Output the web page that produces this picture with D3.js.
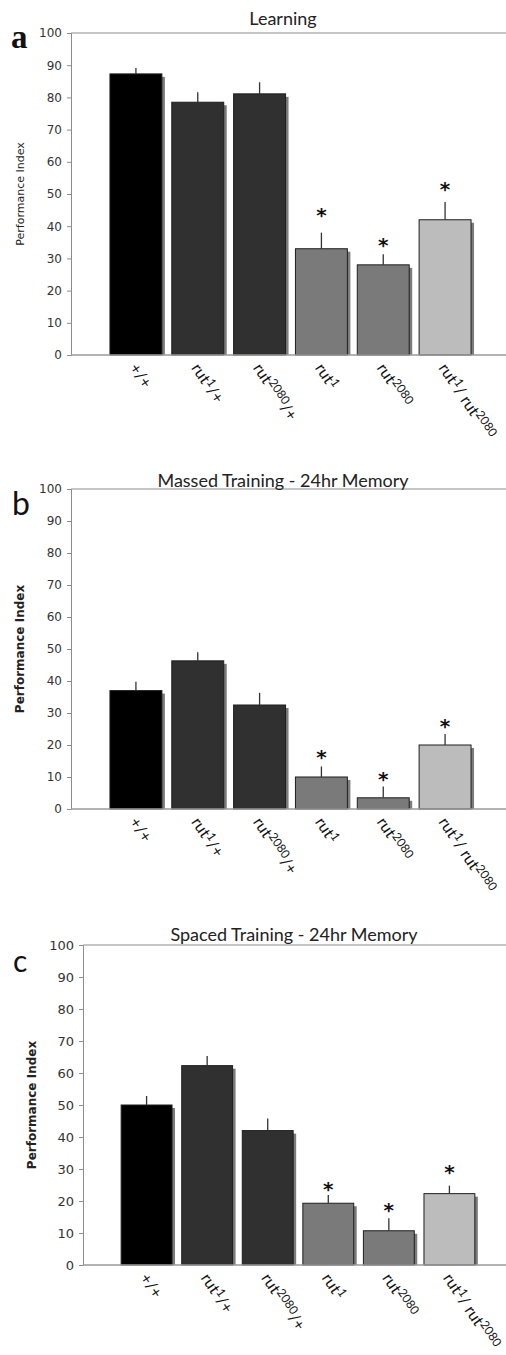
<!DOCTYPE html>
<html>
<head>
<meta charset="utf-8">
<script src="https://cdn.jsdelivr.net/npm/d3@7"></script>
<style>
  body { margin: 0; background: #fff; }
  svg { display: block; }
</style>
</head>
<body>
<svg id="fig" width="506" height="1355"></svg>
<script>
// Genotypes (digits in a name are drawn as superscript allele numbers)
const genotypes = ["+/+", "rut1/+", "rut2080/+", "rut1", "rut2080", "rut1/ rut2080"];
const yTicks = [0, 10, 20, 30, 40, 50, 60, 70, 80, 90, 100];

// a: Learning
const learningMean = [87.3, 78.5, 81.1, 33.0, 28.0, 42.0];
const learningSem  = [1.8, 3.1, 3.6, 5.0, 3.3, 5.5];
const learningStar = [null, null, null, 44.8, 35.5, 52.8];

// b: Massed training, 24 hr memory
const massedMean = [37.0, 46.3, 32.5, 10.0, 3.5, 20.0];
const massedSem  = [2.8, 2.7, 3.8, 3.3, 3.5, 3.4];
const massedStar = [null, null, null, 17.5, 10.6, 27.3];

// c: Spaced training, 24 hr memory
const spacedMean = [50.0, 62.3, 42.0, 19.3, 10.7, 22.3];
const spacedSem  = [2.8, 3.0, 3.8, 2.6, 3.9, 2.5];
const spacedStar = [null, null, null, 25.0, 18.4, 30.3];

const barFills = ["#000000", "#303030", "#303030", "#7a7a7a", "#7a7a7a", "#bcbcbc"];

const panels = [
  { letter: "a", title: "Learning", mean: learningMean, sem: learningSem, star: learningStar,
    top: 33, bottom: 355, left: 71, right: 510,
    letterFont: "bold 33px 'Liberation Serif'", letterX: 11, letterY: 48,
    titleX: 283, titleY: 25, yLabelWeight: "normal", yLabelSize: 11, yLabelX: 24, tickSize: 12 },
  { letter: "b", title: "Massed Training - 24hr Memory", mean: massedMean, sem: massedSem, star: massedStar,
    top: 489, bottom: 809, left: 71, right: 510,
    letterFont: "32px Lato", letterX: 12, letterY: 515,
    titleX: 283, titleY: 487, yLabelWeight: "bold", yLabelSize: 12, yLabelX: 24, tickSize: 12 },
  { letter: "c", title: "Spaced Training - 24hr Memory", mean: spacedMean, sem: spacedSem, star: spacedStar,
    top: 945, bottom: 1265, left: 83, right: 513,
    letterFont: "30px Lato", letterX: 13, letterY: 972,
    titleX: 294, titleY: 941, yLabelWeight: "bold", yLabelSize: 12, yLabelX: 36, tickSize: 13 }
];

const svg = d3.select("#fig");

panels.forEach(p => {
  const g = svg.append("g");

  const x = d3.scaleBand()
    .domain(genotypes)
    .range([p.left, p.right])
    .paddingInner(0.16)
    .paddingOuter(0.63);

  const y = d3.scaleLinear().domain([0, 100]).range([p.bottom, p.top]);

  // frame: top edge of the plot area
  g.append("line")
    .attr("x1", p.left).attr("x2", p.right)
    .attr("y1", y(100)).attr("y2", y(100))
    .attr("stroke", "#8c8c8c").attr("stroke-width", 1);

  // y axis
  const yAxis = d3.axisLeft(y).tickValues(yTicks).tickSize(4).tickPadding(5);
  const ya = g.append("g")
    .attr("transform", `translate(${p.left},0)`)
    .call(yAxis);
  ya.select(".domain").attr("stroke", "#8c8c8c");
  ya.selectAll(".tick line").attr("stroke", "#8c8c8c");
  ya.selectAll(".tick text")
    .attr("fill", "#333")
    .style("font-family", "'DejaVu Sans', Verdana, sans-serif")
    .style("font-size", p.tickSize + "px");

  // y axis title
  g.append("text")
    .attr("transform", `translate(${p.yLabelX},${(y(0) + y(100)) / 2}) rotate(-90)`)
    .attr("text-anchor", "middle")
    .attr("fill", "#222")
    .style("font-family", "'DejaVu Sans', Verdana, sans-serif")
    .style("font-size", p.yLabelSize + "px")
    .style("font-weight", p.yLabelWeight)
    .text("Performance Index");

  // bar shadows
  g.selectAll(".shadow")
    .data(genotypes)
    .join("rect")
    .attr("class", "shadow")
    .attr("x", d => x(d) + 3)
    .attr("y", (d, i) => y(p.mean[i]) + 3)
    .attr("width", x.bandwidth())
    .attr("height", (d, i) => y(0) - y(p.mean[i]) - 3)
    .attr("fill", "#7c7c7c");

  // bars
  g.selectAll(".bar")
    .data(genotypes)
    .join("rect")
    .attr("class", "bar")
    .attr("x", d => x(d))
    .attr("y", (d, i) => y(p.mean[i]))
    .attr("width", x.bandwidth())
    .attr("height", (d, i) => y(0) - y(p.mean[i]))
    .attr("fill", (d, i) => barFills[i])
    .attr("stroke", "#1e1e1e")
    .attr("stroke-width", 1);

  // x axis baseline
  g.append("line")
    .attr("x1", p.left).attr("x2", p.right)
    .attr("y1", y(0)).attr("y2", y(0))
    .attr("stroke", "#9a9a9a").attr("stroke-width", 1.3);

  // error bars (upper half only)
  g.selectAll(".err")
    .data(genotypes)
    .join("line")
    .attr("class", "err")
    .attr("x1", d => x(d) + x.bandwidth() / 2)
    .attr("x2", d => x(d) + x.bandwidth() / 2)
    .attr("y1", (d, i) => y(p.mean[i]))
    .attr("y2", (d, i) => y(p.mean[i] + p.sem[i]))
    .attr("stroke", "#333")
    .attr("stroke-width", 1.3);

  // significance asterisks
  g.selectAll(".star")
    .data(genotypes.filter((d, i) => p.star[i] !== null))
    .join("text")
    .attr("class", "star")
    .attr("x", d => x(d) + x.bandwidth() / 2)
    .attr("y", d => y(p.star[genotypes.indexOf(d)]) + 11)
    .attr("text-anchor", "middle")
    .attr("fill", "#111")
    .style("font-family", "'DejaVu Sans', sans-serif")
    .style("font-weight", "bold")
    .style("font-size", "20px")
    .text("*");

  // rotated genotype labels with superscript allele numbers
  genotypes.forEach(name => {
    const cx = x(name) + x.bandwidth() / 2;
    const t = g.append("text")
      .attr("transform", `translate(${cx - 7},${y(0) + 13}) rotate(56)`)
      .attr("fill", "#111")
      .style("font-family", "Lato, 'Open Sans', sans-serif")
      .style("font-size", "16px");
    const parts = name.split(/(\d+)/).filter(s => s.length);
    let raised = false;
    parts.forEach(s => {
      const isSup = /^\d+$/.test(s);
      const ts = t.append("tspan").text(s);
      if (isSup) {
        ts.attr("dy", raised ? 0 : -5).style("font-size", "12px");
        raised = true;
      } else {
        ts.attr("dy", raised ? 5 : 0);
        raised = false;
      }
    });
  });

  // panel title and letter
  g.append("text")
    .attr("x", p.titleX).attr("y", p.titleY)
    .attr("text-anchor", "middle")
    .attr("fill", "#222")
    .style("font-family", "Lato, 'Open Sans', sans-serif")
    .style("font-size", "18px")
    .text(p.title);

  g.append("text")
    .attr("x", p.letterX).attr("y", p.letterY)
    .attr("fill", "#111")
    .style("font", p.letterFont)
    .text(p.letter);
});
</script>
</body>
</html>
